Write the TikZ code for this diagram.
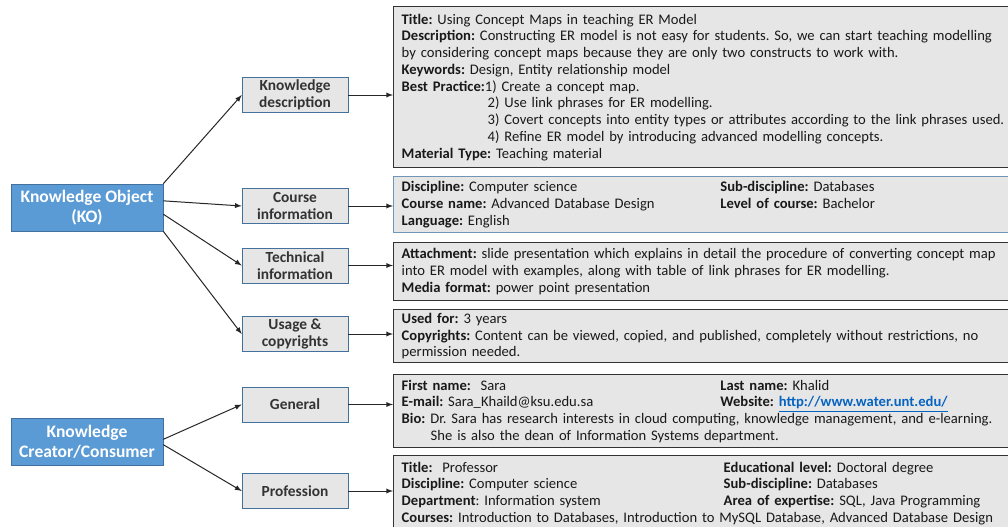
\documentclass[tikz,border=0pt]{standalone}
\usepackage{fontspec}
\setmainfont{Carlito}
\usepackage{xcolor}
\usetikzlibrary{arrows, positioning, calc}

\definecolor{kblue}{HTML}{5B9BD5}
\definecolor{kblueline}{HTML}{41719C}
\definecolor{kgray}{HTML}{E7E6E6}
\definecolor{kdark}{HTML}{333333}
\definecolor{klink}{HTML}{0563C1}
\frenchspacing

\begin{document}
\begin{tikzpicture}[x=0.75bp, y=-0.75bp, >=latex,
  topbox/.style={draw=kblueline, fill=kblue, text=white, font=\fontsize{13.2}{14.8}\selectfont\bfseries, align=center, minimum width=114bp, minimum height=35.25bp, inner sep=0pt},
  catbox/.style={draw=kblueline, fill=kgray, text=kdark, font=\fontsize{11.6}{12.8}\selectfont\bfseries, align=center, minimum width=79.5bp, minimum height=26.25bp, inner sep=0pt},
  infobox/.style={draw=kdark, line width=1.1bp, fill=kgray, anchor=north west, align=left, text width=470bp, inner xsep=6bp, inner ysep=0pt, text=black!90, font=\fontsize{11}{12.6}\selectfont},
  link/.style={->, black!85, line width=0.75bp}]
\useasboundingbox (0,0) rectangle (1008,527);
\clip (0,0) rectangle (1008,527);

% Main objects
\node[topbox] (ko) at (87,207.5) {Knowledge Object\\(KO)};
\node[topbox] (kcc) at (87,442) {Knowledge\\Creator/Consumer};

% Categories
\node[catbox] (kdesc) at (295,95) {Knowledge\\description};
\node[catbox] (cinfo) at (295,206) {Course\\information};
\node[catbox] (tinfo) at (295,265.5) {Technical\\information};
\node[catbox] (usage) at (295,334) {Usage \&\\copyrights};
\node[catbox] (gen) at (295,404.5) {General};
\node[catbox] (prof) at (295,491) {Profession};

% Details
\node[infobox, minimum height=120.75bp] (b1) at (393,6) {%
\textbf{Title:} Using Concept Maps in teaching ER Model\\
\textbf{Description:} Constructing ER model is not easy for students. So, we can start teaching modelling\\
by considering concept maps because they are only two constructs to work with.\\
\textbf{Keywords:} Design, Entity relationship model\\
\textbf{Best Practice:}1) Create a concept map.\\
\hspace*{64.5bp}2) Use link phrases for ER modelling.\\
\hspace*{64.5bp}3) Covert concepts into entity types or attributes according to the link phrases used.\\
\hspace*{64.5bp}4) Refine ER model by introducing advanced modelling concepts.\\
\textbf{Material Type:} Teaching material};

\node[infobox, draw=kblueline!75, minimum height=42bp] (b2) at (393,176) {%
\makebox[239bp][l]{\textbf{Discipline:} Computer science}\textbf{Sub-discipline:} Databases\\
\makebox[239bp][l]{\textbf{Course name:} Advanced Database Design}\textbf{Level of course:} Bachelor\\
\textbf{Language:} English};

\node[infobox, minimum height=43.5bp] (b3) at (393,242) {%
\textbf{Attachment:} slide presentation which explains in detail the procedure of converting concept map\\
into ER model with examples, along with table of link phrases for ER modelling.\\
\textbf{Media format:} power point presentation};

\node[infobox, minimum height=39.75bp] (b4) at (393,309) {%
\textbf{Used for:} 3 years\\
\textbf{Copyrights:} Content can be viewed, copied, and published, completely without restrictions, no\\
permission needed.};

\node[infobox, minimum height=54.75bp] (b5) at (393,374) {%
\makebox[239bp][l]{\textbf{First name:}\ \ Sara}\textbf{Last name:} Khalid\\
\makebox[239bp][l]{\textbf{E-mail:} Sara\_Khaild@ksu.edu.sa}\textbf{Website:} \textcolor{klink}{\textbf{\underline{http://www.water.unt.edu/}}}\\
\textbf{Bio:} Dr. Sara has research interests in cloud computing, knowledge management, and e-learning.\\
\hspace*{21.75bp}She is also the dean of Information Systems department.};

\node[infobox, minimum height=56.25bp] (b6) at (393,455) {%
\makebox[241.5bp][l]{\textbf{Title:}\ \ Professor}\textbf{Educational level:} Doctoral degree\\
\makebox[241.5bp][l]{\textbf{Discipline:} Computer science}\textbf{Sub-discipline:} Databases\\
\makebox[241.5bp][l]{\textbf{Department}: Information system}\textbf{Area of expertise:} SQL, Java Programming\\
\textbf{Courses:} Introduction to Databases, Introduction to MySQL Database, Advanced Database Design};

% Connectors
\draw[link] (ko.north east) -- (kdesc.west);
\draw[link] (ko.5) -- (cinfo.west);
\draw[link] (ko.-5) -- (tinfo.west);
\draw[link] (ko.south east) -- (usage.west);
\draw[link] (kcc.2) -- (gen.west);
\draw[link] (kcc.-2) -- (prof.west);

\draw[link] (kdesc.east) -- (kdesc.east -| b1.west);
\draw[link] (cinfo.east) -- (cinfo.east -| b2.west);
\draw[link] (tinfo.east) -- (tinfo.east -| b3.west);
\draw[link] (usage.east) -- (usage.east -| b4.west);
\draw[link] (gen.east) -- (gen.east -| b5.west);
\draw[link] (prof.east) -- (prof.east -| b6.west);
\end{tikzpicture}
\end{document}
